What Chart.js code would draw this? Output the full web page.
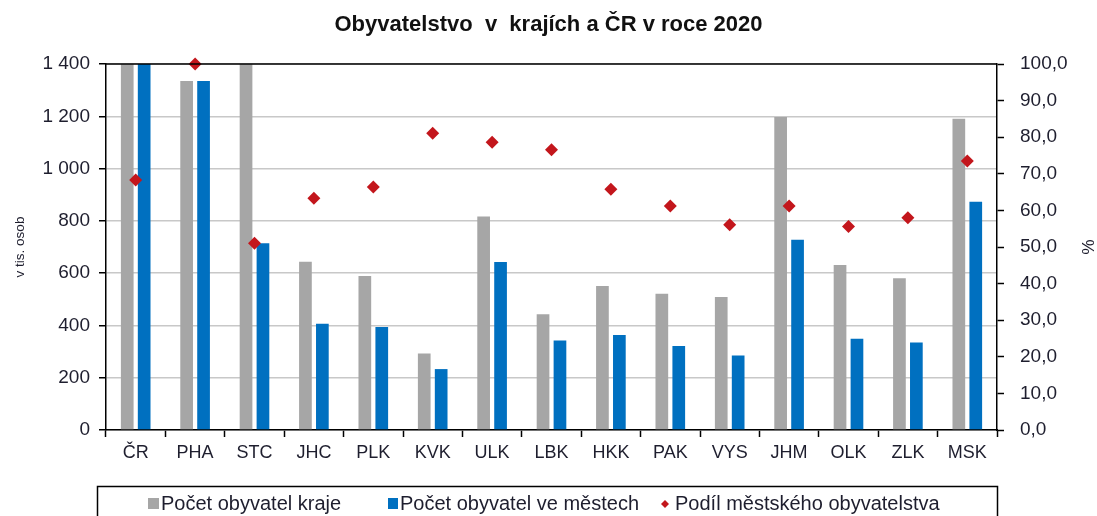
<!DOCTYPE html>
<html>
<head>
<meta charset="utf-8">
<script src="https://cdn.jsdelivr.net/npm/chart.js@4"></script>
<style>
html,body{margin:0;padding:0;background:#fff;}
#wrap{width:1097px;height:516px;position:relative;}
</style>
</head>
<body>
<div id="wrap"><canvas id="c" width="1097" height="516"></canvas></div>
<script>
const categories = ["ČR","PHA","STC","JHC","PLK","KVK","ULK","LBK","HKK","PAK","VYS","JHM","OLK","ZLK","MSK"];
const popRegion = [10701, 1335, 1400, 644, 589, 293, 817, 443, 551, 521, 509, 1197, 631, 580, 1191];
const popCities = [7310, 1335, 714, 406, 394, 233, 643, 342, 363, 321, 285, 728, 349, 335, 873];
const urbanShare = [68.3, 100.0, 51.0, 63.3, 66.4, 81.1, 78.6, 76.6, 65.8, 61.2, 56.1, 61.2, 55.6, 58.0, 73.5];
const leftTicks = [0, 200, 400, 600, 800, 1000, 1200, 1400];
const rightTicks = [0, 10, 20, 30, 40, 50, 60, 70, 80, 90, 100];

const seriesNames = ["Počet obyvatel kraje", "Počet obyvatel ve městech", "Podíl městského obyvatelstva"];
const FONT = "'Liberation Sans', Arial, sans-serif";
const TXT = '#1e1e2e';

const fmtThousands = v => String(v).replace(/\B(?=(\d{3})+(?!\d))/g, ' ');
const fmtPct = v => v.toFixed(1).replace('.', ',');

const framePlugin = {
  id: 'frame',
  afterDatasetsDraw(chart) {
    const {ctx, chartArea: a} = chart;
    ctx.save();
    ctx.strokeStyle = '#000';
    ctx.lineWidth = 1.5;
    ctx.beginPath();
    ctx.moveTo(a.left, a.top);
    ctx.lineTo(a.right, a.top);
    ctx.stroke();
    ctx.restore();
  },
  afterDraw(chart) {
    const {ctx} = chart;
    const ds = chart.data.datasets;
    const share = ds.find(d => d.label === seriesNames[2]);
    const region = ds.find(d => d.label === seriesNames[0]);
    const cities = ds.find(d => d.label === seriesNames[1]);
    ctx.save();
    ctx.strokeStyle = '#000';
    ctx.lineWidth = 1.5;
    ctx.strokeRect(97.5, 486.5, 900, 40);
    const y = 504;
    ctx.font = "20px " + FONT;
    ctx.textBaseline = 'middle';
    ctx.textAlign = 'left';
    ctx.fillStyle = region.backgroundColor;
    ctx.fillRect(148, y - 6, 11, 11);
    ctx.fillStyle = TXT;
    ctx.fillText(region.label, 161, y);
    ctx.fillStyle = cities.backgroundColor;
    ctx.fillRect(388, y - 6, 10, 11);
    ctx.fillStyle = TXT;
    ctx.fillText(cities.label, 400, y);
    ctx.fillStyle = share.backgroundColor;
    ctx.beginPath();
    ctx.moveTo(665, y - 4);
    ctx.lineTo(669, y);
    ctx.lineTo(665, y + 4);
    ctx.lineTo(661, y);
    ctx.closePath();
    ctx.fill();
    ctx.fillStyle = TXT;
    ctx.fillText(share.label, 675, y);
    ctx.restore();
  }
};

new Chart(document.getElementById('c'), {
  type: 'bar',
  data: {
    labels: categories,
    datasets: [
      {
        type: 'line',
        label: seriesNames[2],
        data: urbanShare,
        yAxisID: 'y1',
        showLine: false,
        pointStyle: 'rectRot',
        pointRadius: 6.5,
        pointHoverRadius: 6.5,
        backgroundColor: '#c3161c',
        borderColor: '#c3161c',
        borderWidth: 0,
        order: 0,
        clip: false
      },
      {
        label: seriesNames[0],
        data: popRegion,
        backgroundColor: '#a6a6a6',
        yAxisID: 'y',
        categoryPercentage: 0.57,
        barPercentage: 0.75,
        order: 1
      },
      {
        label: seriesNames[1],
        data: popCities,
        backgroundColor: '#0070c0',
        yAxisID: 'y',
        categoryPercentage: 0.57,
        barPercentage: 0.75,
        order: 1
      }
    ]
  },
  options: {
    responsive: false,
    animation: false,
    events: [],
    layout: { padding: { left: 0, right: 0, top: 0, bottom: 0 } },
    plugins: {
      legend: { display: false },
      tooltip: { enabled: false },
      title: {
        display: true,
        text: 'Obyvatelstvo  v  krajích a ČR v roce 2020',
        color: '#111',
        font: { family: FONT, size: 22, weight: 'bold', lineHeight: 1.2 },
        padding: { top: 12, bottom: 25.6 }
      }
    },
    scales: {
      x: {
        offset: true,
        grid: {
          display: true,
          offset: true,
          drawOnChartArea: false,
          drawTicks: true,
          tickLength: 7,
          tickColor: '#000',
          tickWidth: 1.5
        },
        border: { display: true, color: '#000', width: 1.5 },
        ticks: {
          color: TXT,
          font: { family: FONT, size: 18 },
          padding: 5,
          maxRotation: 0
        },
        afterFit(scale) { scale.height = 86; }
      },
      y: {
        position: 'left',
        min: 0,
        max: 1400,
        afterBuildTicks(scale) { scale.ticks = leftTicks.map(v => ({ value: v })); },
        grid: {
          color: '#c8c8c8',
          lineWidth: 1.5,
          drawTicks: true,
          tickLength: 7,
          tickColor: '#000',
          tickWidth: 1.5
        },
        border: { display: true, color: '#000', width: 1.5 },
        ticks: {
          color: TXT,
          font: { family: FONT, size: 19 },
          padding: 9,
          callback: v => fmtThousands(v)
        },
        title: {
          display: true,
          text: 'v tis. osob',
          color: TXT,
          font: { family: FONT, size: 13.5 },
          padding: { top: 12, bottom: 0 }
        },
        afterFit(scale) { scale.width = 106; }
      },
      y1: {
        position: 'right',
        min: 0,
        max: 100,
        afterBuildTicks(scale) { scale.ticks = rightTicks.map(v => ({ value: v })); },
        grid: {
          drawOnChartArea: false,
          drawTicks: true,
          tickLength: 7,
          tickColor: '#000',
          tickWidth: 1.5
        },
        border: { display: true, color: '#000', width: 1.5 },
        ticks: {
          color: TXT,
          font: { family: FONT, size: 19 },
          padding: 16,
          callback: v => fmtPct(v)
        },
        title: {
          display: true,
          text: '%',
          color: TXT,
          font: { family: FONT, size: 17 },
          padding: { top: 0, bottom: 0 }
        },
        afterFit(scale) { scale.width = 100; }
      }
    }
  },
  plugins: [framePlugin]
});
</script>
</body>
</html>
